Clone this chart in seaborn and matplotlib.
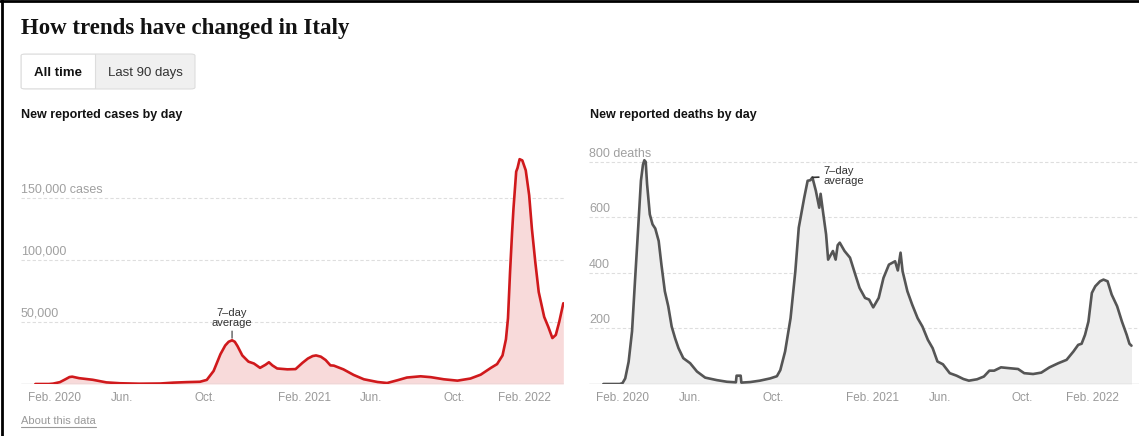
"""How trends have changed in Italy: new reported cases and deaths by day."""
import matplotlib
matplotlib.use("Agg")
import matplotlib.pyplot as plt
import matplotlib.dates as mdates
from matplotlib.patches import FancyBboxPatch, Rectangle
from matplotlib.lines import Line2D
import pandas as pd
import seaborn as sns

CASE_DATES = [
    "2020-01-31", "2020-02-20", "2020-02-26", "2020-03-07", "2020-03-15", "2020-03-21",
    "2020-03-25", "2020-04-04", "2020-04-24", "2020-05-14", "2020-06-03", "2020-07-01",
    "2020-08-01", "2020-08-20", "2020-09-08", "2020-09-28", "2020-10-08", "2020-10-18",
    "2020-10-28", "2020-11-04", "2020-11-09", "2020-11-14", "2020-11-18", "2020-11-22",
    "2020-11-29", "2020-12-08", "2020-12-16", "2020-12-25", "2021-01-02", "2021-01-07",
    "2021-01-12", "2021-01-19", "2021-02-03", "2021-02-15", "2021-02-25", "2021-03-05",
    "2021-03-12", "2021-03-17", "2021-03-24", "2021-03-31", "2021-04-07", "2021-04-12",
    "2021-04-26", "2021-05-11", "2021-05-26", "2021-06-15", "2021-06-29", "2021-07-14",
    "2021-07-28", "2021-08-17", "2021-09-01", "2021-09-20", "2021-10-10", "2021-10-29",
    "2021-11-13", "2021-11-28", "2021-12-07", "2021-12-15", "2021-12-20", "2021-12-23",
    "2021-12-26", "2021-12-29", "2021-12-31", "2022-01-04", "2022-01-06", "2022-01-09",
    "2022-01-13", "2022-01-18", "2022-01-23", "2022-01-27", "2022-02-01", "2022-02-06",
    "2022-02-14", "2022-02-20", "2022-02-26", "2022-03-03", "2022-03-08", "2022-03-14",
]
CASE_VALUES = [
    0, 0, 300, 1500, 3800, 5600,
    5900, 4700, 3400, 1300, 600, 250,
    400, 1100, 1500, 1800, 3300, 10500,
    24000, 31000, 34000, 35200, 34000, 30500,
    23000, 18000, 16500, 13000, 15500, 17500,
    15000, 12500, 11800, 12000, 17000, 20500,
    22500, 23000, 22000, 19300, 15000, 14800,
    11800, 7300, 3800, 1600, 800, 3000,
    5200, 6200, 5500, 3800, 2700, 4400,
    7500, 13000, 16000, 23000, 36000, 53000,
    90000, 122000, 141000, 171000, 174000, 181000,
    180000, 172000, 152000, 125000, 98000, 74000,
    54000, 46000, 37000, 39500, 50000, 65000,
]

DEATH_DATES = [
    "2020-01-31", "2020-02-24", "2020-02-28", "2020-03-03", "2020-03-08", "2020-03-13",
    "2020-03-17", "2020-03-22", "2020-03-26", "2020-03-29", "2020-03-31", "2020-04-02",
    "2020-04-04", "2020-04-08", "2020-04-12", "2020-04-16", "2020-04-21", "2020-04-25",
    "2020-04-30", "2020-05-05", "2020-05-10", "2020-05-15", "2020-05-20", "2020-05-27",
    "2020-06-06", "2020-06-16", "2020-06-28", "2020-07-15", "2020-07-30", "2020-08-12",
    "2020-08-13", "2020-08-19", "2020-08-20", "2020-09-02", "2020-09-16", "2020-10-01",
    "2020-10-11", "2020-10-16", "2020-10-23", "2020-10-31", "2020-11-07", "2020-11-12",
    "2020-11-20", "2020-11-25", "2020-11-29", "2020-12-02", "2020-12-07", "2020-12-12",
    "2020-12-14", "2020-12-18", "2020-12-22", "2020-12-25", "2021-01-01", "2021-01-05",
    "2021-01-08", "2021-01-11", "2021-01-18", "2021-01-26", "2021-02-02", "2021-02-09",
    "2021-02-17", "2021-02-23", "2021-03-01", "2021-03-09", "2021-03-16", "2021-03-24",
    "2021-04-02", "2021-04-06", "2021-04-10", "2021-04-13", "2021-04-20", "2021-04-27",
    "2021-05-05", "2021-05-12", "2021-05-20", "2021-05-27", "2021-06-03", "2021-06-11",
    "2021-06-21", "2021-07-01", "2021-07-11", "2021-07-19", "2021-07-31", "2021-08-10",
    "2021-08-18", "2021-08-25", "2021-09-04", "2021-09-16", "2021-09-29", "2021-10-08",
    "2021-10-21", "2021-11-02", "2021-11-14", "2021-11-27", "2021-12-09", "2021-12-19",
    "2021-12-26", "2021-12-31", "2022-01-05", "2022-01-10", "2022-01-15", "2022-01-20",
    "2022-01-27", "2022-02-01", "2022-02-07", "2022-02-13", "2022-02-21", "2022-02-28",
    "2022-03-07", "2022-03-11", "2022-03-14",
]
DEATH_VALUES = [
    0, 0, 3, 20, 80, 190,
    358, 563, 732, 790, 806, 800,
    720, 611, 575, 560, 515, 430,
    334, 280, 207, 165, 129, 93,
    75, 45, 23, 14, 8, 6,
    30, 30, 5, 7, 12, 20,
    28, 50, 117, 237, 406, 563,
    671, 732, 734, 744, 696, 635,
    685, 611, 539, 448, 479, 448,
    500, 509, 479, 455, 400, 346,
    310, 304, 276, 310, 382, 430,
    442, 409, 473, 406, 334, 286,
    237, 207, 159, 129, 81, 71,
    39, 30, 18, 12, 17, 27,
    48, 48, 60, 57, 54, 39,
    36, 41, 60, 75, 87, 117,
    141, 145, 177, 225, 328, 352,
    370, 376, 370, 322, 280, 225,
    177, 145, 138,
]

TICK_DATES = ["2020-02-01", "2020-06-01", "2020-10-01", "2021-02-01",
              "2021-06-01", "2021-10-01", "2022-02-01"]
TICK_LABELS = ["Feb. 2020", "Jun.", "Oct.", "Feb. 2021", "Jun.", "Oct.", "Feb. 2022"]

CASE_GRID = [50000, 100000, 150000]
CASE_GRID_LABELS = ["50,000", "100,000", "150,000 cases"]
DEATH_GRID = [200, 400, 600, 800]
DEATH_GRID_LABELS = ["200", "400", "600", "800 deaths"]

W, H = 1139, 436


def fx(x):
    return x / W


def fy(y):
    return 1 - y / H


def draw_panel(ax, dates, values, line_color, fill_color, grid, grid_labels, ymax, xlim):
    df = pd.DataFrame({"date": pd.to_datetime(dates), "value": values})
    ax.fill_between(df["date"], df["value"], color=fill_color, lw=0, zorder=1)
    sns.lineplot(data=df, x="date", y="value", ax=ax, color=line_color, lw=1.9, zorder=3)
    ax.set_xlim(pd.to_datetime(xlim[0]), pd.to_datetime(xlim[1]))
    ax.set_ylim(0, ymax)
    for v, lab in zip(grid, grid_labels):
        ax.axhline(v, color="#dedede", lw=0.8, ls=(0, (3, 2)), zorder=0)
        ax.annotate(lab, xy=(0, v), xycoords=ax.get_yaxis_transform(), xytext=(0, 1.5),
                    textcoords="offset points", ha="left", va="bottom",
                    color="#a0a0a0", fontsize=9, zorder=2)
    ax.axhline(0, color="#cccccc", lw=1, zorder=2)
    ticks = pd.to_datetime(TICK_DATES)
    ax.set_xticks(ticks)
    ax.set_xticklabels([""] * len(ticks))
    ax.set_yticks([])
    ax.tick_params(axis="x", length=4, width=0.8, color="#bbbbbb", direction="out", pad=0)
    data_end = mdates.date2num(df["date"].iloc[-1])
    for d, lab in zip(mdates.date2num(ticks), TICK_LABELS):
        if data_end - d < 60:
            # last label is pulled back so it ends short of the line's end
            ax.annotate(lab, xy=(d, 0), xycoords=ax.get_xaxis_transform(),
                        xytext=(11, -6), textcoords="offset points", ha="right",
                        va="top", color="#999999", fontsize=8.5)
        else:
            ax.annotate(lab, xy=(d, 0), xycoords=ax.get_xaxis_transform(),
                        xytext=(-5.5, -6), textcoords="offset points", ha="left",
                        va="top", color="#999999", fontsize=8.5)
    ax.set_xlabel("")
    ax.set_ylabel("")
    sns.despine(ax=ax, left=True, bottom=True)
    ax.patch.set_alpha(0)


sns.set_theme(style="white")
plt.rcParams["font.family"] = ["Liberation Sans", "DejaVu Sans"]

fig = plt.figure(figsize=(W / 100, H / 100), dpi=100)

ax1 = fig.add_axes([fx(21), fy(384), fx(564) - fx(21), fy(148) - fy(384)])
draw_panel(ax1, CASE_DATES, CASE_VALUES, "#d0191c", "#f8dada", CASE_GRID, CASE_GRID_LABELS,
           190000, ("2020-01-10", "2022-03-15"))

ax2 = fig.add_axes([fx(589), fy(384), fx(1139) - fx(589), fy(148) - fy(384)])
draw_panel(ax2, DEATH_DATES, DEATH_VALUES, "#555555", "#eeeeee", DEATH_GRID, DEATH_GRID_LABELS,
           850, ("2020-01-10", "2022-03-25"))

# 7-day average labels
cases = pd.Series(CASE_VALUES, index=pd.to_datetime(CASE_DATES))
c_peak = cases[:"2021-01-01"].idxmax()
ax1.annotate("7–day\naverage", xy=(mdates.date2num(c_peak), cases[c_peak]), xytext=(0, 9),
             textcoords="offset points", ha="center", va="bottom", color="#333333",
             fontsize=8, linespacing=0.95,
             arrowprops=dict(arrowstyle="-", color="#333333", lw=0.8, shrinkA=0, shrinkB=1.5))

deaths = pd.Series(DEATH_VALUES, index=pd.to_datetime(DEATH_DATES))
d_peak = deaths["2020-10-01":"2021-01-01"].idxmax()
ax2.annotate("7–day\naverage", xy=(mdates.date2num(d_peak), deaths[d_peak]), xytext=(8, 1),
             textcoords="offset points", ha="left", va="center", color="#333333",
             fontsize=8, linespacing=0.95,
             arrowprops=dict(arrowstyle="-", color="#333333", lw=1.2, shrinkA=1, shrinkB=0))

# header
fig.text(fx(21), fy(28), "How trends have changed in Italy", ha="left", va="center",
         fontsize=16.5, fontweight="bold", family=["Liberation Serif", "DejaVu Serif"],
         color="#121212")

btn = FancyBboxPatch((fx(21), fy(89)), fx(174), fy(0) - fy(35),
                     boxstyle="round,pad=0,rounding_size=0.004", transform=fig.transFigure,
                     facecolor="#f0f0f0", edgecolor="#dddddd", lw=0.8)
fig.add_artist(btn)
fig.add_artist(Rectangle((fx(21.7), fy(88.3)), fx(95) - fx(21.7), fy(54.7) - fy(88.3),
                         transform=fig.transFigure, facecolor="white", edgecolor="none"))
fig.add_artist(Line2D([fx(95), fx(95)], [fy(54.5), fy(88.5)], transform=fig.transFigure,
                      color="#dddddd", lw=0.8))
fig.text(fx(58), fy(73), "All time", ha="center", va="center", fontsize=9.5,
         fontweight="bold", color="#121212")
fig.text(fx(145), fy(73), "Last 90 days", ha="center", va="center", fontsize=9.5,
         color="#333333")

fig.text(fx(21), fy(115), "New reported cases by day", ha="left", va="center",
         fontsize=9, fontweight="bold", color="#121212")
fig.text(fx(590), fy(115), "New reported deaths by day", ha="left", va="center",
         fontsize=9, fontweight="bold", color="#121212")

about = fig.text(fx(21), fy(421), "About this data", ha="left", va="center",
                 fontsize=8, color="#999999")
fig.canvas.draw()
bb = about.get_window_extent().transformed(fig.transFigure.inverted())
fig.add_artist(Line2D([bb.x0, bb.x1], [bb.y0 - 0.002, bb.y0 - 0.002],
                      transform=fig.transFigure, color="#999999", lw=0.8))

# screenshot frame
fig.add_artist(Line2D([fx(1.5), fx(1.5)], [0, 1], transform=fig.transFigure, color="black", lw=2))
fig.add_artist(Line2D([0, 1], [fy(1), fy(1)], transform=fig.transFigure, color="black", lw=2))

fig.savefig("out.png", dpi=100)
